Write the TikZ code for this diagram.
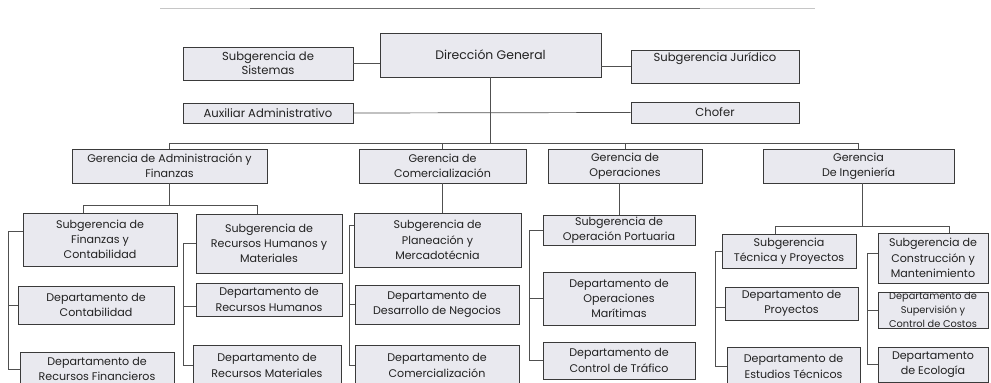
\documentclass[tikz,border=0pt]{standalone}
\usepackage{fontspec}
\setmainfont{Poppins}
\definecolor{boxfill}{HTML}{E9E9EF}
\definecolor{boxline}{HTML}{3A3A3A}
\definecolor{linec}{HTML}{505050}
\definecolor{textc}{HTML}{222222}
\tikzset{
  box/.style={draw=boxline, fill=boxfill, line width=0.9pt, inner sep=0pt, align=center, text=textc, font=\fontsize{11.1}{15.2}\selectfont},
  toptext/.style={font=\fontsize{11.6}{14}\selectfont},
  bigtext/.style={font=\fontsize{12.4}{15}\selectfont},
  smalltext/.style={font=\fontsize{9.8}{13.8}\selectfont},
  conn/.style={draw=linec, line width=0.7pt},
}
\newcommand{\orgbox}[7][]{%
  \pgfmathsetmacro\obcx{(#3+#5)/2}\pgfmathsetmacro\obcy{(#4+#6)/2}%
  \pgfmathsetmacro\obw{#5-#3}\pgfmathsetmacro\obh{#6-#4}%
  \node[box, minimum width=\obw pt, minimum height=\obh pt, #1] (#2) at (\obcx,\obcy) {#7};}
\begin{document}
\begin{tikzpicture}[x=1pt,y=-1pt]
\useasboundingbox (0,0) rectangle (991,383);
% scan line at top
\draw[line width=0.8pt, gray!45] (160,8) -- (815,8);
\draw[line width=1.2pt, gray!85!black] (250,8.3) -- (700,8.3);

\orgbox[bigtext]{dg}{380}{33}{601}{77}{Dirección General}
\orgbox[toptext]{sis}{183}{47}{353}{80}{Subgerencia de\\Sistemas}
\orgbox[toptext]{jur}{631}{50}{799}{83}{Subgerencia Jurídico\\\strut}
\orgbox[toptext]{aux}{183}{103}{353}{123}{Auxiliar Administrativo}
\orgbox[toptext]{cho}{631}{102}{799}{123}{Chofer}

\orgbox{gaf}{72}{149}{267}{183}{Gerencia de Administración y\\Finanzas}
\orgbox{gco}{359}{149}{526}{183}{Gerencia de\\Comercialización}
\orgbox{gop}{548}{149}{702}{183}{Gerencia de\\Operaciones}
\orgbox{gin}{763}{149}{954}{183}{Gerencia\\De Ingeniería}

\orgbox{sfc}{23}{213}{177}{266}{Subgerencia de\\Finanzas y\\Contabilidad}
\orgbox{dco}{18}{286}{174}{324}{Departamento de\\Contabilidad}
\orgbox{drf}{20}{352}{174}{386}{Departamento de\\Recursos Financieros}
\orgbox{srh}{196}{214}{342}{273}{Subgerencia de\\Recursos Humanos y\\Materiales}
\orgbox{drh}{196}{283}{342}{316}{Departamento de\\Recursos Humanos}
\orgbox{drm}{193}{345}{341}{386}{Departamento de\\Recursos Materiales}

\orgbox{spm}{354}{213}{521}{267}{Subgerencia de\\Planeación y\\Mercadotécnia}
\orgbox{ddn}{355}{285}{519}{324}{Departamento de\\Desarrollo de Negocios}
\orgbox{dcm}{355}{345}{519}{386}{Departamento de\\Comercialización}

\orgbox{sop}{543}{215}{695}{245}{Subgerencia de\\Operación Portuaria}
\orgbox{dom}{543}{272}{695}{325}{Departamento de\\Operaciones\\Marítimas}
\orgbox{dct}{543}{342}{695}{379}{Departamento de\\Control de Tráfico}

\orgbox{stc}{722}{234}{856}{268}{Subgerencia\\Técnica y Proyectos}
\orgbox{dpy}{725}{287}{858}{320}{Departamento de\\Proyectos}
\orgbox{det}{727}{347}{860}{386}{Departamento de\\Estudios Técnicos}
\orgbox{scm}{878}{233}{988}{283}{Subgerencia de\\Construcción y\\Mantenimiento}
\orgbox[smalltext]{dsc}{878}{292}{988}{328}{Departamento de\\Supervisión y\\Control de Costos}
\orgbox{dec}{878}{347}{988}{382}{Departamento\\de Ecología}

% helper coordinates
\coordinate (topbus) at (0,143);
\coordinate (ab1) at (83,205);
\coordinate (ab2) at (257,205);
\coordinate (ib1) at (775,226);
\coordinate (ib2) at (949,226);
\coordinate (ibv) at (862,0);
\coordinate (lf) at (8,0);
\coordinate (lr) at (183,0);
\coordinate (lc) at (349,0);
\coordinate (lo) at (529,0);
\coordinate (lt) at (715,0);
\coordinate (lm) at (867,0);

% top level
\draw[conn] (sis.east) -- (sis.east -| dg.west);
\draw[conn] (jur.west) -- (jur.west -| dg.east);
\draw[conn] (aux.east) -- (cho.west);
\draw[conn] (dg.south) -- (dg.south |- topbus);
\draw[conn] (gaf.north) -- (gaf.north |- topbus) -| (gin.north);
\draw[conn] (gco.north) -- (gco.north |- topbus);
\draw[conn] (gop.north) -- (gop.north |- topbus);

% administracion y finanzas
\draw[conn] (gaf.south) -- (gaf.south |- ab1);
\draw[conn] (sfc.north -| ab1) -- (ab1) -- (ab2) -- (ab2 |- srh.north);
\draw[conn] ([yshift=8.5pt]sfc.west) -| (lf |- drf.west) -- (drf.west);
\draw[conn] (dco.west) -- (dco.west -| lf);
\draw[conn] (srh.west) -| (lr |- drm.west) -- (drm.west);
\draw[conn] ([yshift=-7pt]drh.west) -- ([yshift=-7pt]drh.west -| lr);

% comercializacion
\draw[conn] (gco.south) -- (gco.south |- spm.north);
\draw[conn] ([yshift=15pt]spm.west) -| (lc |- dcm.west) -- (dcm.west);
\draw[conn] (ddn.west) -- (ddn.west -| lc);

% operaciones
\draw[conn] (sop.north) -- (sop.north |- gop.south);
\draw[conn] (sop.west) -| (lo |- dct.west) -- (dct.west);
\draw[conn] (dom.west) -- (dom.west -| lo);

% ingenieria
\draw[conn] (ibv |- gin.south) -- (ibv |- ib1);
\draw[conn] (ib1 |- stc.north) -- (ib1) -- (ib2) -- (ib2 |- scm.north);
\draw[conn] (stc.west) -| (lt |- det.west) -- (det.west);
\draw[conn] ([yshift=-4pt]dpy.west) -- ([yshift=-4pt]dpy.west -| lt);
\draw[conn] ([yshift=5pt]scm.west) -| (lm |- dec.west) -- (dec.west);
\draw[conn] (dsc.west) -- (dsc.west -| lm);
\end{tikzpicture}
\end{document}
